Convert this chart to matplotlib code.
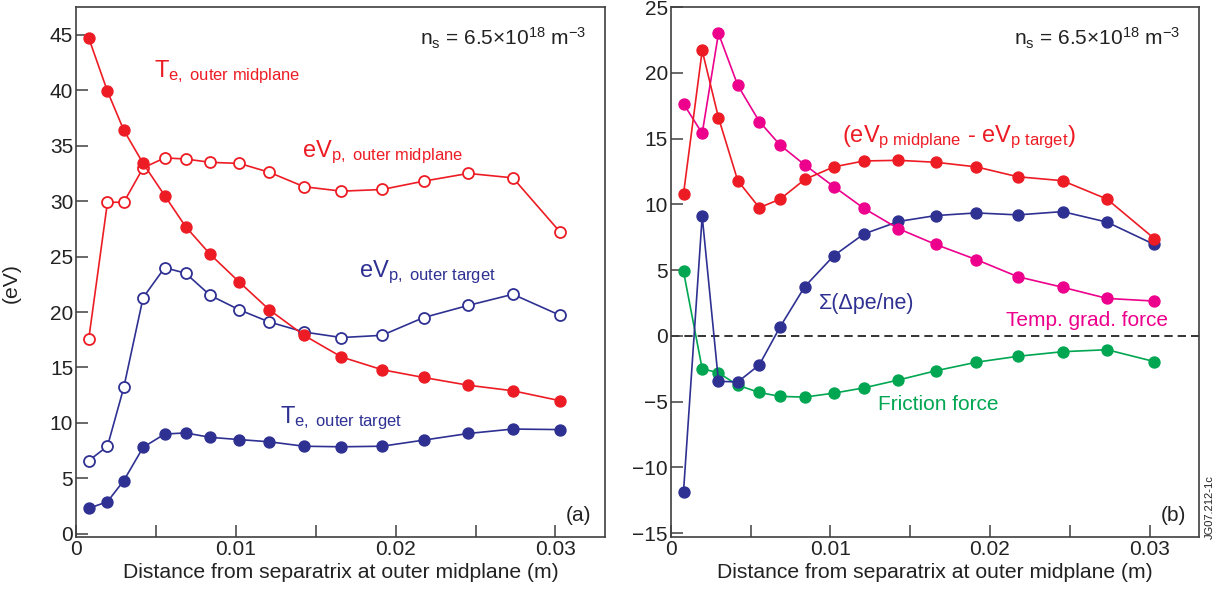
import matplotlib
matplotlib.use("Agg")
import matplotlib.pyplot as plt
from matplotlib.ticker import MultipleLocator

plt.rcParams['font.family'] = ['Liberation Sans', 'DejaVu Sans']
plt.rcParams['mathtext.fontset'] = 'custom'
plt.rcParams['mathtext.rm'] = 'Liberation Sans'
plt.rcParams['mathtext.it'] = 'Liberation Sans:italic'

RED = "#ed1c24"; BLUE = "#2e3192"; MAG = "#ec008c"; GRN = "#00a651"
SPINE = "#404040"; INK = "#222222"

# ---------- data ----------
x = [0.00080, 0.00197, 0.00299, 0.00420, 0.00555, 0.00686, 0.00840, 0.01022,
     0.01210, 0.01427, 0.01661, 0.01915, 0.02175, 0.02455, 0.02734, 0.03030]

te_mid   = [44.7, 39.9, 36.4, 33.4, 30.5, 27.7, 25.2, 22.7, 20.2, 17.9, 15.95, 14.8, 14.1, 13.4, 12.9, 12.0]
evp_mid  = [17.6, 29.9, 29.9, 33.0, 33.9, 33.8, 33.5, 33.4, 32.6, 31.3, 30.9, 31.05, 31.8, 32.5, 32.1, 27.2]
evp_tgt  = [6.6, 7.9, 13.2, 21.3, 24.0, 23.5, 21.5, 20.2, 19.1, 18.2, 17.7, 17.9, 19.5, 20.6, 21.6, 19.7]
te_tgt   = [2.3, 2.9, 4.8, 7.8, 9.0, 9.1, 8.7, 8.5, 8.3, 7.9, 7.85, 7.9, 8.45, 9.05, 9.45, 9.4]

dvp      = [10.8, 21.7, 16.6, 11.8, 9.75, 10.4, 11.9, 12.85, 13.3, 13.35, 13.2, 12.85, 12.1, 11.8, 10.4, 7.4]
tgrad    = [17.65, 15.4, 23.0, 19.05, 16.3, 14.5, 13.0, 11.35, 9.7, 8.15, 6.95, 5.8, 4.5, 3.7, 2.85, 2.65]
sigma_pe = [-11.85, 9.1, -3.45, -3.5, -2.2, 0.7, 3.75, 6.1, 7.75, 8.7, 9.15, 9.35, 9.2, 9.45, 8.65, 6.95]
friction = [4.9, -2.5, -2.8, -3.75, -4.3, -4.6, -4.65, -4.35, -3.95, -3.35, -2.65, -2.0, -1.55, -1.2, -1.05, -1.95]

xticks = [0, 0.01, 0.02, 0.03]
xtick_labels = ["0", "0.01", "0.02", "0.03"]

fig = plt.figure(figsize=(12.16, 5.89), dpi=100)
axa = fig.add_axes([0.0625, 0.088, 0.4350, 0.900])
axb = fig.add_axes([0.5516, 0.088, 0.4344, 0.900])

MS = 7.9; LW = 1.2

def style(ax, ylo, yhi):
    ax.set_xlim(0, 0.0331)
    ax.set_ylim(ylo, yhi)
    ax.set_xticks(xticks)
    ax.set_xticklabels(xtick_labels)
    ax.xaxis.set_minor_locator(MultipleLocator(0.005))
    ax.yaxis.set_major_locator(MultipleLocator(5))
    ax.tick_params(which="both", direction="in", top=False, right=False,
                   labelsize=15, colors=SPINE, labelcolor=INK, width=1.1,
                   length=8.5, pad=2)
    for s in ax.spines.values():
        s.set_color(SPINE); s.set_linewidth(1.2)
    ax.set_xlabel("Distance from separatrix at outer midplane (m)", fontsize=15.2,
                  color=INK, labelpad=3)

def filled(ax, y, c):
    ax.plot(x, y, "-o", color=c, lw=LW, ms=MS, mfc=c, mec=c, mew=1.0)

def opened(ax, y, c):
    ax.plot(x, y, "-o", color=c, lw=LW, ms=MS, mfc="white", mec=c, mew=1.3)

# ---------- panel (a) ----------
opened(axa, evp_tgt, BLUE)
filled(axa, te_tgt, BLUE)
opened(axa, evp_mid, RED)
filled(axa, te_mid, RED)
style(axa, -0.3, 47.5)
axa.set_ylabel("(eV)", fontsize=15.2, color=INK)
axa.yaxis.set_label_coords(-0.105, 0.48)

axa.text(0.0049, 41.6, r"T$_{\rm e,\ outer\ midplane}$", fontsize=17, color=RED,
         ha="left", va="center")
axa.text(0.01415, 34.4, r"eV$_{\rm p,\ outer\ midplane}$", fontsize=17, color=RED,
         ha="left", va="center")
axa.text(0.0177, 23.6, r"eV$_{\rm p,\ outer\ target}$", fontsize=17, color=BLUE,
         ha="left", va="center")
axa.text(0.01275, 10.4, r"T$_{\rm e,\ outer\ target}$", fontsize=17, color=BLUE,
         ha="left", va="center")
axa.text(0.965, 0.94, r"n$_{\rm s}$ = 6.5×10$^{18}$ m$^{-3}$", fontsize=15,
         color=INK, ha="right", va="center", transform=axa.transAxes)
axa.text(0.975, 0.04, "(a)", fontsize=15, color=INK, ha="right", va="center",
         transform=axa.transAxes)

# ---------- panel (b) ----------
axb.axhline(0, color="#111111", lw=1.2, ls=(0, (5, 3)), zorder=1)
filled(axb, friction, GRN)
filled(axb, sigma_pe, BLUE)
filled(axb, tgrad, MAG)
filled(axb, dvp, RED)
style(axb, -15.3, 25)

axb.text(0.01075, 15.1, r"(eV$_{\rm p\ midplane}$ - eV$_{\rm p\ target}$)", fontsize=17,
         color=RED, ha="left", va="center")
axb.text(0.0093, 2.45, "Σ(Δpe/ne)", fontsize=15.5, color=BLUE, ha="left", va="center")
axb.text(0.0210, 1.2, "Temp. grad. force", fontsize=15, color=MAG, ha="left", va="center")
axb.text(0.0130, -5.25, "Friction force", fontsize=15, color=GRN, ha="left", va="center")
axb.text(0.965, 0.94, r"n$_{\rm s}$ = 6.5×10$^{18}$ m$^{-3}$", fontsize=15,
         color=INK, ha="right", va="center", transform=axb.transAxes)
axb.text(0.975, 0.04, "(b)", fontsize=15, color=INK, ha="right", va="center",
         transform=axb.transAxes)

fig.text(0.9945, 0.085, "JG07.212-1c", fontsize=8, color=INK, rotation=90,
         ha="center", va="bottom")

fig.savefig("out.png", dpi=100, facecolor="white")
